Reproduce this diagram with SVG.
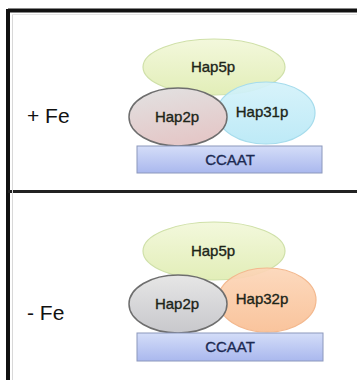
<svg xmlns="http://www.w3.org/2000/svg" width="357" height="380" viewBox="0 0 357 380">
  <style>
    .lbl { font-family: "Liberation Sans", Arial, sans-serif; font-size: 15px; fill: #1c2418; stroke: #1c2418; stroke-width: 0.35; text-anchor: middle; }
    .dna { fill: #1c2a52; stroke: #1c2a52; }
    .cond { font-family: "Liberation Sans", Arial, sans-serif; font-size: 21px; fill: #111; }
    .frame { stroke: #111; stroke-width: 4; fill: none; }
  </style>
  <defs>
    <linearGradient id="g5" x1="0" y1="0" x2="0" y2="1">
      <stop offset="0" stop-color="#f3f8dc"/>
      <stop offset="1" stop-color="#e2eeb8"/>
    </linearGradient>
    <linearGradient id="g31" x1="0" y1="0" x2="0" y2="1">
      <stop offset="0" stop-color="#d4f2fa"/>
      <stop offset="1" stop-color="#b8e8f6"/>
    </linearGradient>
    <linearGradient id="g32" x1="0" y1="0" x2="0" y2="1">
      <stop offset="0" stop-color="#fcd6b8"/>
      <stop offset="1" stop-color="#f9bf94"/>
    </linearGradient>
    <linearGradient id="g2a" x1="0" y1="0" x2="0.3" y2="1">
      <stop offset="0" stop-color="#e2e2e2"/>
      <stop offset="1" stop-color="#e4c8c8"/>
    </linearGradient>
    <linearGradient id="g2b" x1="0" y1="0" x2="0" y2="1">
      <stop offset="0" stop-color="#e6e6e6"/>
      <stop offset="1" stop-color="#c8c8cc"/>
    </linearGradient>
    <linearGradient id="gdna" x1="0" y1="0" x2="0" y2="1">
      <stop offset="0" stop-color="#d4ddf8"/>
      <stop offset="1" stop-color="#aab8ee"/>
    </linearGradient>
  </defs>

  <rect x="0" y="0" width="357" height="380" fill="#ffffff"/>

  <!-- panel frame -->
  <g id="frame">
    <line class="frame" x1="8" y1="10.5" x2="357" y2="10.5"/>
    <line class="frame" x1="8" y1="9" x2="8" y2="380"/>
    <line x1="8" y1="191.5" x2="357" y2="191.5" stroke="#222" stroke-width="3"/>
    <line x1="12.5" y1="14" x2="12.5" y2="380" stroke="#d8d8d8" stroke-width="1"/>
    <line x1="12" y1="14.5" x2="357" y2="14.5" stroke="#e4e4e4" stroke-width="1"/>
  </g>

  <!-- iron-replete complex -->
  <g id="plusFe">
    <text class="cond" x="27" y="123">+ Fe</text>
  </g>
  <g id="hap5p-top">
    <ellipse cx="214" cy="67" rx="71" ry="28" fill="url(#g5)" stroke="#cfe0a8" stroke-width="1.2"/>
    <text class="lbl" x="213" y="72">Hap5p</text>
  </g>
  <g id="hap31p">
    <ellipse cx="266" cy="113" rx="49" ry="31" fill="url(#g31)" fill-opacity="0.92" stroke="#a6dcec" stroke-width="1.2"/>
    <text class="lbl" x="262" y="117">Hap31p</text>
  </g>
  <g id="hap2p-top">
    <ellipse cx="178" cy="117" rx="49" ry="29" fill="url(#g2a)" stroke="#6e6e6e" stroke-width="1.5"/>
    <text class="lbl" x="177" y="122">Hap2p</text>
  </g>
  <g id="ccaat-top">
    <rect x="137" y="146" width="185" height="27" fill="url(#gdna)" stroke="#8c98bc" stroke-width="1"/>
    <text class="lbl dna" x="230" y="165">CCAAT</text>
  </g>

  <!-- iron-depleted complex -->
  <g id="minusFe">
    <text class="cond" x="27" y="320">- Fe</text>
  </g>
  <g id="hap5p-bottom">
    <ellipse cx="214" cy="251" rx="71" ry="29" fill="url(#g5)" stroke="#cfe0a8" stroke-width="1.2"/>
    <text class="lbl" x="213" y="256">Hap5p</text>
  </g>
  <g id="hap32p">
    <ellipse cx="267" cy="300" rx="49" ry="32" fill="url(#g32)" fill-opacity="0.92" stroke="#f3b88e" stroke-width="1.2"/>
    <text class="lbl" x="262" y="304">Hap32p</text>
  </g>
  <g id="hap2p-bottom">
    <ellipse cx="178" cy="304" rx="49" ry="29" fill="url(#g2b)" stroke="#6e6e6e" stroke-width="1.5"/>
    <text class="lbl" x="177" y="309">Hap2p</text>
  </g>
  <g id="ccaat-bottom">
    <rect x="137" y="333" width="186" height="28" fill="url(#gdna)" stroke="#8c98bc" stroke-width="1"/>
    <text class="lbl dna" x="230" y="352">CCAAT</text>
  </g>

  <!-- no connectors in this figure -->
  <g id="connectors"/>
</svg>
